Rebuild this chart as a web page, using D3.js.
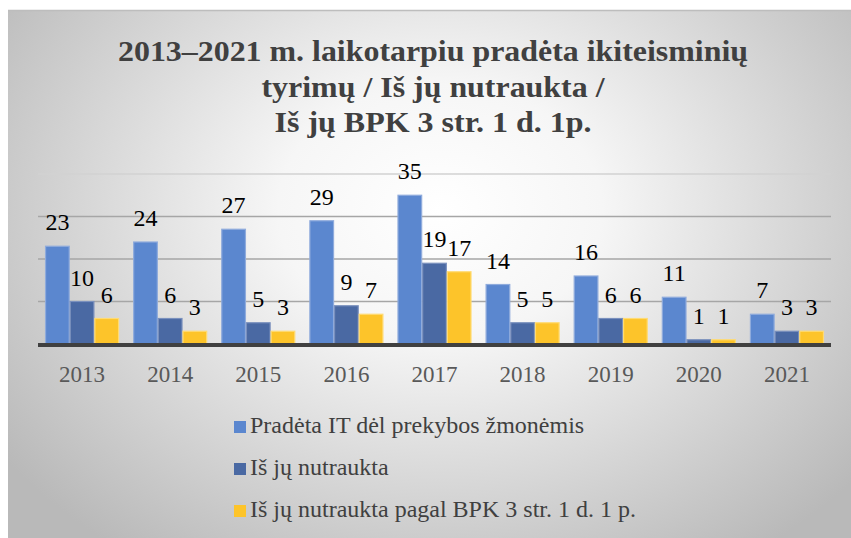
<!DOCTYPE html>
<html>
<head>
<meta charset="utf-8">
<script src="https://cdn.jsdelivr.net/npm/d3@7"></script>
<style>
  body { margin: 0; background: #fff; }
  svg { display: block; }
  text { font-family: "Liberation Serif", "Times New Roman", serif; }
</style>
</head>
<body>
<div id="chart"></div>
<script>
// data
const years = ["2013", "2014", "2015", "2016", "2017", "2018", "2019", "2020", "2021"];
const started = [23, 24, 27, 29, 35, 14, 16, 11, 7];
const terminated = [10, 6, 5, 9, 19, 5, 6, 1, 3];
const terminatedBPK = [6, 3, 3, 7, 17, 5, 6, 1, 3];
const seriesNames = [
    "Pradėta IT dėl prekybos žmonėmis",
    "Iš jų nutraukta",
    "Iš jų nutraukta pagal BPK 3 str. 1 d. 1 p."
];
const gridTicks = [10, 20, 30, 40];
const titleLines = [
    "2013–2021 m. laikotarpiu pradėta ikiteisminių",
    "tyrimų / Iš jų nutraukta /",
    "Iš jų BPK 3 str. 1 d. 1p."
];

const colors = ["#5b87cf", "#4a69a3", "#fdc42a"];
const strokes = ["#8fabdc", "#7a90bd", "#ffdb73"];
const seriesData = [started, terminated, terminatedBPK];

const width = 851, height = 538;
const svg = d3.select("#chart").append("svg").attr("width", width).attr("height", height);

// background panel with radial shading
const defs = svg.append("defs");
const grad = defs.append("radialGradient").attr("id", "bg")
    .attr("gradientUnits", "userSpaceOnUse")
    .attr("cx", 440).attr("cy", 210).attr("r", 540)
    .attr("gradientTransform", "translate(440,210) scale(1,0.78) translate(-440,-210)");
grad.append("stop").attr("offset", 0).attr("stop-color", "#ffffff");
grad.append("stop").attr("offset", 0.3).attr("stop-color", "#f6f6f6");
grad.append("stop").attr("offset", 0.85).attr("stop-color", "#c6c6c6");
grad.append("stop").attr("offset", 1).attr("stop-color", "#b9b9b9");

svg.append("rect").attr("x", 8).attr("y", 10).attr("width", width - 8).attr("height", height - 10)
    .attr("fill", "url(#bg)");
svg.append("line").attr("x1", 8).attr("x2", width).attr("y1", 10.5).attr("y2", 10.5)
    .attr("stroke", "#bdbdbd").attr("stroke-width", 1.5);

// title
const titleWidths = [630, 343, 317];
svg.append("g").selectAll("text").data(titleLines).join("text")
    .attr("x", 433)
    .attr("y", (d, i) => 61 + i * 35.5)
    .attr("text-anchor", "middle")
    .attr("font-size", 30)
    .attr("font-weight", "bold")
    .attr("fill", "#404040")
    .attr("textLength", (d, i) => titleWidths[i])
    .attr("lengthAdjust", "spacingAndGlyphs")
    .text(d => d);

// scales
const x0 = d3.scaleBand().domain(years).range([38, 831]).paddingInner(0.16).paddingOuter(0.08);
const x1 = d3.scaleBand().domain(d3.range(seriesNames.length)).range([0, x0.bandwidth()]);
const y = d3.scaleLinear().domain([0, 40]).range([344, 174]);

// gridlines
svg.append("g").selectAll("line").data(gridTicks).join("line")
    .attr("x1", 38).attr("x2", 831)
    .attr("y1", d => y(d)).attr("y2", d => y(d))
    .attr("stroke", d => d === 40 ? "#d2d2d2" : "#a6a6a6")
    .attr("stroke-width", 1.5);

// bars
const groups = svg.append("g").selectAll("g").data(years).join("g")
    .attr("transform", d => `translate(${x0(d)},0)`);

groups.selectAll("rect")
    .data((d, i) => seriesData.map((s, k) => ({ k, v: s[i] })))
    .join("rect")
    .attr("x", d => x1(d.k) + 0.5)
    .attr("y", d => y(d.v))
    .attr("width", x1.bandwidth() - 1)
    .attr("height", d => y(0) - y(d.v))
    .attr("fill", d => colors[d.k])
    .attr("stroke", d => strokes[d.k])
    .attr("stroke-width", 1.2);

groups.selectAll("text")
    .data((d, i) => seriesData.map((s, k) => ({ k, v: s[i] })))
    .join("text")
    .attr("x", d => x1(d.k) + x1.bandwidth() / 2)
    .attr("y", d => y(d.v) - 16)
    .attr("text-anchor", "middle")
    .attr("font-size", 24)
    .attr("fill", "#000")
    .text(d => d.v);

// baseline
svg.append("line").attr("x1", 38).attr("x2", 831).attr("y1", y(0) + 1).attr("y2", y(0) + 1)
    .attr("stroke", "#404040").attr("stroke-width", 4);

// x axis labels
const xAxis = svg.append("g").attr("transform", `translate(0,${y(0)})`)
    .call(d3.axisBottom(x0).tickSize(0).tickPadding(0));
xAxis.select(".domain").remove();
xAxis.selectAll("text")
    .attr("dy", 0).attr("y", 38)
    .attr("font-size", 23)
    .attr("font-family", "Liberation Serif, Times New Roman, serif")
    .attr("fill", "#595959");

// legend
const legend = svg.append("g").selectAll("g").data(seriesNames).join("g")
    .attr("transform", (d, i) => `translate(234,${433 + i * 42})`);
legend.append("rect").attr("x", 0).attr("y", -12).attr("width", 12).attr("height", 12)
    .attr("fill", (d, i) => colors[i]);
legend.append("text").attr("x", 16).attr("y", 0)
    .attr("font-size", 24)
    .attr("fill", "#404040")
    .text(d => d);
</script>
</body>
</html>
